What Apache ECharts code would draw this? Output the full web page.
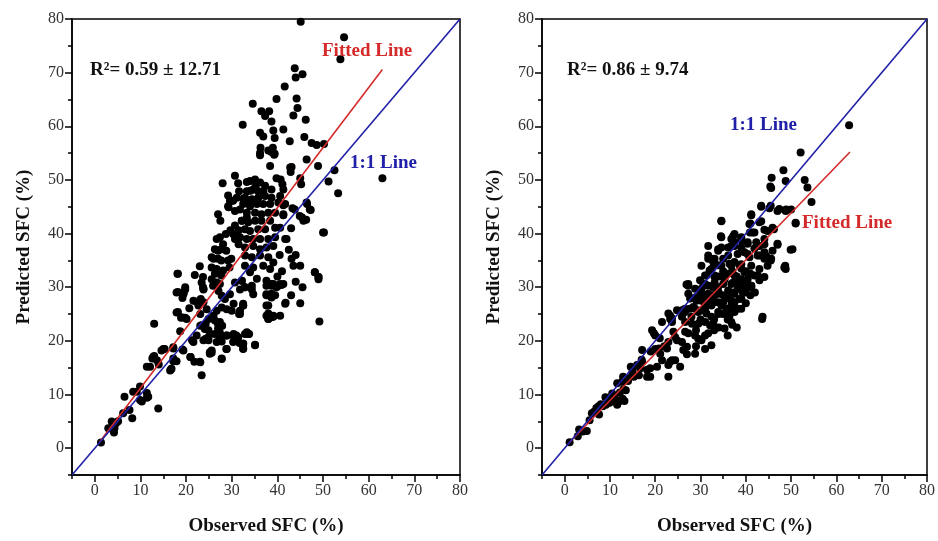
<!DOCTYPE html>
<html><head><meta charset="utf-8">
<script src="https://cdn.jsdelivr.net/npm/echarts@6/dist/echarts.min.js"></script>
<style>html,body{margin:0;padding:0;background:#fff}#c{width:938px;height:541px}</style>
</head><body><div id="c"></div>
<script>
// ---------- data ----------
const axisMin = -5, axisMax = 80;
const majorTicks = [0,10,20,30,40,50,60,70,80];
const minorTicks = [-5,5,15,25,35,45,55,65,75];
const xTitle = 'Observed SFC (%)';
const yTitle = 'Predicted SFC (%)';
const leftStat = 'R²= 0.59 ± 12.71';
const rightStat = 'R²= 0.86 ± 9.74';
const oneToOne = [[-5,-5],[80,80]];
const fitLeft = [[1,1.1],[63,70.6]];
const fitRight = [[1,1.0],[63,55.2]];

const leftPoints = [
[1.35,1.07],[2.95,3.7],[4.2,2.9],[5.1,5.0],[4.6,4.6],[3.7,4.95],[4.05,4.3],[4.3,3.7],[6.5,9.6],[7.6,7.1],[8.2,5.6],[8.4,10.5],[9.2,10.5],[9.9,11.5],[9.9,9.0],[10.3,8.7],[11.4,10.3],[11.4,9.4],[11.7,9.6],[6.2,6.5],[11.4,15.2],[12.1,15.2],[13,17.2],[12.6,16.7],[13,23.2],[13.9,7.4],[14.0,15.6],[14.6,18.2],[15.3,18.5],[16.7,14.7],[17.2,16.2],[17.9,16.2],[17.2,18.6],[15,18.5],[17.2,18.8],[19.4,18.2],[12.8,17],[13.6,16.4],[17.2,16.7],[20.9,17],[16.5,14.5],
[18.2,32.5],[19.2,28],[19.8,29.6],[19.5,29],[18.2,29.1],[18.2,25.4],[18.7,21.8],[18.9,24.3],[19.8,24.3],[19.2,18.4],[20.7,26.1],[21,17],[21.8,16.1],[21.3,20.1],[22.3,21],[22.3,27.3],[23.2,27.8],[23,16.1],[23.4,13.6],[23.4,22.9],[24.3,23.2],[24.9,22],[24.3,20.4],[24.9,20.1],[23.4,30.9],[23.8,29.7],[25.2,17.6],[25.6,17.8],[27,23.2],[27.4,23.5],[27.9,22.8],[27,22.3],[27.4,21.5],[27.8,19.9],[27.8,16.6],[28.8,18.5],[28.9,21],[30.3,21],[30.3,19.8],[31,21],[31.7,19.6],[31.6,25],[32.5,18.6],[32.5,19.5],[33.6,21.3],[35.1,19.2],[32.5,26.6],[37.6,26.6],[38,25.1],[38,24.1],[38.3,24.8],[39.1,24.5],[40.6,24.7],[37.6,28.5],[38.7,28.8],[39.5,28.5],[38.7,30.3],[40.2,30.3],[41.3,30.6],[41.8,27.1],[48.2,32.8],[49,31.9],[49.2,23.6],
[23.8,29.6],[26.7,30.9],[27.1,29.3],[27.8,28.4],[28.5,27.8],[29.6,28.7],[30.7,30.9],[31.8,29.6],[32.9,30],[17.9,29],[19.4,28.7],[21.6,27.5],[22.7,26.6],[23.8,27.2],[24.5,25.9],[17.9,25.3],[19,24.4],[20.1,24.1],[23.1,25],[24.9,24.1],[26,24.7],[26.7,25.6],[27.8,26.2],[28.9,25.9],[30,25.6],[31.8,25.6],[32.5,26.9],[30.4,26.9],[23.1,22.8],[24.1,22.2],[26.3,23.8],[27.1,23.2],[27.8,22.8],[24.9,20.7],[26.3,21.3],[27.4,20.4],[28.9,21],[30.4,21.3],[31.4,20.7],[32.9,21.3],[21.6,19.8],[23.8,20.1],[25.6,18.2],[26.7,19.8],[28.9,18.5],[32.5,18.5],[33.3,21.6],[23.1,16],[25.2,17.9],[27.8,16.7],[16.8,14.8],
[32.2,31.2],[32.9,30],[34.4,29.6],[34.7,28.7],[37.6,30.3],[38.7,30.6],[40.9,30.4],[39.8,30],[37.6,28.7],[38.4,28.4],[38.7,28.1],[38,26.6],[37.6,24.7],[38.7,24.4],[39.1,24.7],[38,24.1],[41.7,26.9],[49,31.5],[32.5,26.6],[31.8,25],[33.8,21.3],[32.5,19.4],[35.1,19.3],
[30.7,50.8],[28,49.4],[31.4,49.4],[33.3,49.6],[31.6,47.9],[29.2,47.1],[30,46.1],[31.1,46.7],[32.5,46.5],[33.6,46.1],[29.2,45.1],[30.7,44.2],[31.8,44.5],[27,43.6],[27.5,42.4],[32.2,42.4],[33.3,43],[30.7,41.5],[31.5,40.6],[29.7,40.6],[28.7,39.9],[30.3,39.9],[26.7,39],[27.4,39.3],[28.1,38],[30.7,39],[31.8,39.3],[31.5,38],[26.3,37.1],[27,36.8],[27.7,37.1],[28.8,36.8],[26,35.3],[25.6,35.6],[27,35.3],[27.7,35],[29.2,35],[29.9,35.3],[23,33.9],[25.6,33.7],[26.7,33.4],[28.1,33.1],[29.5,33.7],[18.1,32.5],[21.9,32.3],[23.7,31.9],[26.3,32.5],[27.7,32.2],[25.6,31.5],[27.4,30.6],[19.8,30],[23.7,30],[25.9,30.3],
[34,49.8],[35.1,50.1],[36.2,49.5],[37.3,48.9],[33.3,47.9],[34.7,48.2],[35.8,47.9],[36.9,47.9],[38.7,48.2],[32.9,46.7],[34.4,46.4],[35.8,46.7],[37.3,47],[38.7,46.7],[40.6,47],[32.5,45.5],[34,45.1],[35.5,45.5],[36.9,45.5],[38.4,45.5],[40.2,45.8],[41.7,45.5],[33.3,43.9],[35.1,43.9],[36.5,43.6],[38,43.9],[39.5,43.9],[41.3,43.6],[43.8,44.5],[32.2,42.4],[33.6,42.1],[35.1,42.4],[36.5,42.4],[38.4,42.4],[44.9,43.3],[45.7,42.4],[47.1,44.5],[46.4,45.8],[32.9,40.8],[34,40.5],[35.8,40.8],[37.3,40.8],[39.5,41.1],[40.6,41.1],[33.3,39],[34.7,39],[36.2,39],[38,39],[39.5,39.3],[41.7,39],[50,40.2],[32.9,37.4],[34.7,37.7],[36.2,37.1],[37.6,37.4],[39.1,37.7],[32.9,35.9],[34.4,35.6],[36.2,35.9],[38,35.6],[39.1,34.6],[32.9,34],[34.7,33.7],[36.9,34],[38.4,33.4],[43.1,35.3],[43.5,34],[34,32.8],[35.5,31.6],[37.6,31.2],[39.1,30.6],[40.6,30.6],[48.2,32.8],[49,31.9],[32.2,31.2],[34.4,30.3],
[45.1,79.5],[54.6,76.6],[53.8,72.5],[43.8,70.8],[45.5,69.7],[44,69.1],[41.6,67.4],[34.6,64.2],[39.8,65.1],[44.2,65.2],[44.4,63.4],[43.5,62],[36.5,62.8],[38.2,62.8],[37.3,61.9],[38.7,60.9],[32.4,60.3],[46.2,61.2],[36.2,58.8],[39.1,59.2],[39.4,57.8],[41.3,59.4],[42.7,57.2],[36.9,58.1],[45.9,58],[47.5,56.9],[48.6,56.5],[50.2,56.7],[36.2,55],[38,55.5],[38.7,55.2],[39.4,54.9],[46.4,53.8],[43.1,52.4],[38.4,52.6],[48.9,52.6],
[52.5,51.8],[51.2,49.7],[53.3,47.5],[63,50.3],[42.8,52.3],[42.9,51.5],[45,50.3],[45.2,49.2],[43.3,44.7],[46.5,45.5],[47.3,44.4],[45.4,43],[46.3,42.6],[50.2,40.2],[39.8,50.3],[40.7,50.1],[41.1,49.2],[41.3,48.2],[41.3,45.3],[41.3,43.4],[35,49.8],[35.2,48.7],[34.1,48],[29.6,46.1],[30.3,46.1],[29.3,44.9],[39,56],[36.3,56],[39.3,54.7],[36.2,54.6],
[42,39],[43,41],[44,36],[45,34],[42.5,37],[40.5,36],[41,33],[44,31],[45.5,30],[45,27],[43,28.5],[40,32]
];

const rightPoints = [
[1.1,1.1],[2.9,2.2],[4,3.1],[4.9,3.2],[3.2,3.5],[5.5,5.2],[6.5,6.8],[7.6,6.3],[8.4,7.8],[9.1,8.1],[9.8,8.4],[10.5,8.7],[11.6,8.1],[12,8.7],[12.4,9],[13.5,10.8],[12.7,12.4],[11.6,12.1],[12.9,13.3],[13.8,13],[14.9,13.6],[14.6,15.2],[15.3,13.3],[16.4,13.6],[16.7,14.9],[17.1,16.1],[18.2,14.6],[18.2,13.3],[18.9,13.3],[18.9,14.9],[17.1,18.3],[19.3,22],[19.7,21.4],[20,21],[20.8,18.6],[21.1,17.6],[21.5,16.4],[20.4,15.2],[21.5,23.5],[22.9,13.3],[22.9,15.5],[23.3,16.1],[23.7,16.4],[24.4,16.4],[25.5,15.2],[23.3,24.7],[23.3,24.1],[23.7,23.5],[24,21.7],[22.9,19.8],[22.6,18.6],[24.4,20.7],[24.8,20.1],[25.9,19.8],[27,18.9],[26.2,18.3],[26.6,21.7],[27.3,21.4],[28.8,21],[29.5,20.4],[30.2,20.1],[31,21],[31.7,21.4],[28.8,17.6],[25.9,25.7],[26.6,25.4],[27.7,26],[28.4,26.3],[29.5,25.4],[30.2,25.7],[31,26.3],[32.4,26.9],[26.6,23.5],[28.1,23.2],[29.5,23.2],[31,23.5],[32.1,22.9],[32.8,23.2],[32.4,19.2],[27.3,30.6],[27.3,30.3],[28.8,29.7],[30.2,29.7],[31.7,30.3],[33.1,30.9],[28.8,28.1],[30.2,27.5],[31.7,27.8],[33.1,28.5],[33.9,27.2],[34.6,26.6],[35.7,26],[36.8,26.6],[37.5,27.2],[38.6,27.8],[35.3,22.3],[36.8,23.5],[36.4,24.7],[37.5,25.4],[39.3,29.1],[39.7,30.3],[40.4,31.5],[41.2,30.3],[42.6,32.2],[33.9,30],[35.3,31.5],[36.8,30.6],[38.2,29.7],[48.8,33.4],[43.6,24.1],
[6,6.5],[7,7.5],[8,8.2],[9,9.5],[10,9.2],[7.5,7.8],[13,11],[14,12.5],[15,14.5],[16,15.5],[17,16.5],[19,18],[20,18.5],[21,20.5],[22,19],[10.5,10.2],[11,9.7],[12.2,10.4],[13.2,8.8],[12.8,9.2],
[32.4,35.3],[33.1,34.3],[32,33.1],[33.1,32.2],[31.3,32.2],[29.9,31.3],[31,30.6],[32.8,30],[26.9,30.5],[27.3,28.8],[27.7,27.9],[30.2,28.8],[29.1,27.5],[31.3,27.9],[32.8,28.5],[22.9,25.1],[24.8,25.7],[26.6,26],[28.8,26],[31,26],[32.4,26.6],[23.7,24.2],[25.9,24.5],[33.9,37.1],
[43.4,45.2],[45.5,45.2],[47,44.2],[48.8,44.2],[41.2,43.6],[34.6,42.4],[40.8,41.8],[43,42.1],[45.9,41.1],[51,42],[44.8,40.5],[37.5,39.9],[41.5,40.2],[39,39.3],[34.6,39.3],[44.1,39],[47,38.1],[50.3,37.1],[45.9,36.8],[31.7,37.7],[33.9,36.8],[36.8,37.7],[39,37.4],[40.4,38.1],[42.3,38.4],[31.7,35.9],[33.1,35.3],[36.1,35.9],[38.2,36.2],[40.4,36.2],[42.6,35.9],[44.1,35.3],[45.5,35],[30.2,34],[32.4,33.4],[34.6,34],[36.8,34],[39,34.3],[41.2,34],[43,33.4],[44.8,34],[48.5,33.7],[31,32.2],[33.1,31.9],[35.3,32.5],[37.5,32.2],[39.7,32.8],[41.9,32.2],[44.1,31.9],[30.6,30.3],[32.8,30.3],[35,30.6],[37.2,30.9],[39,30.6],[41.2,30.3],[43,31.3],[29.9,28.5],[31.7,28.8],[33.9,28.8],[36.1,29.4],[37.5,28.8],[39.7,29.4],[41.2,30],[31,26.6],[33.1,27.2],[35,27.2],[36.8,27.5],[39,27.9],[31.3,25.1],[33.9,25.4],[36.1,25.7],[38.2,26],[43.7,24.5],[32.4,24.5],
[62.8,60.2],[52.1,55.1],[48.3,51.8],[48.8,49.8],[53,50],[53.6,48.6],[54.5,45.9],[45.7,50.4],[45.4,48.8],[45.6,48.5],[43.4,45],[45.2,44.7],[47.4,44.6],[48.9,44.5],[50,44.5],[41.2,43.4],[43.4,42.3],[44.1,40.7],[46.2,40.8],[51,41.9],[49.9,37],[47,37.9],[48.7,34],[34.6,42.3],[34.5,39.5],[37.2,39.5],[39,39],[41,41.9],[40.9,40.2],[34.6,37.4],[36.1,37.4],[37.5,37.7],[43,37.7],[44.1,38],[41.9,40.2],[44.5,35.8],[45.6,35.3],[31.7,35.3],[32.8,34.7],[33.9,34.1],[35,35.3],[36.4,34.4],[37.5,34.7],[38.6,34.1],[36.8,39],[37.5,38.4],[39,38.7],[40.4,38.4],[39.7,36.5],[41.9,37.2],[43,35.9],[44.1,36.5],[40.8,35.6],
[34,32],[35,33],[36,32.5],[37,33],[38,32],[39,33.5],[40,33],[41,32.5],[34,29],[35,28.5],[36,28],[37,29],[38,31],[39,31.5],[40,29],[41,28.5],[42,29],[35,25],[36,24],[37,23],[38,22.5],[39,26],[40,27],[30,24],[29,22],[28,24.5],[33,24],[34,25],[33,22],[29,19],[27,17.5],[31,18.5],[34,22.5],[36,21]
];

// ---------- styling ----------
const SERIF = '"Liberation Serif", "Times New Roman", serif';
const RED = '#d42a2a', BLUE = '#2020a8';
const grids = [
  {left:72, top:19, width:388, height:458},
  {left:542, top:19, width:389, height:458}
];
const axisLineStyle = {color:'#000', width:1.5};

function majorAxis(g, isX) {
  return {
    type:'value', gridIndex:g, min:axisMin, max:axisMax,
    position: isX ? 'bottom' : 'left',
    splitLine:{show:false},
    axisLine:{show:true, onZero:false, lineStyle:axisLineStyle},
    axisTick:{show:true, inside:false, length:7, customValues:majorTicks, lineStyle:axisLineStyle},
    axisLabel:{customValues:majorTicks, color:'#333', fontFamily:SERIF, fontSize:16, margin:8},
    name: isX ? xTitle : yTitle,
    nameLocation:'middle', nameGap: isX ? 42 : 38,
    nameTextStyle:{fontFamily:SERIF, fontWeight:'bold', fontSize:19, color:'#111'}
  };
}
function minorAxis(g, isX) {
  return {
    type:'value', gridIndex:g, min:axisMin, max:axisMax,
    position: isX ? 'bottom' : 'left',
    splitLine:{show:false},
    axisLine:{show:false, onZero:false},
    axisTick:{show:true, inside:false, length:4, customValues:minorTicks, lineStyle:axisLineStyle},
    axisLabel:{show:false}
  };
}

function panelSeries(axisIdx, pts, fit) {
  return [
    {type:'scatter', xAxisIndex:axisIdx, yAxisIndex:axisIdx, data:pts, symbolSize:8,
     itemStyle:{color:'#000', opacity:1}, z:2, silent:true},
    {type:'line', xAxisIndex:axisIdx, yAxisIndex:axisIdx, data:fit, symbol:'none',
     lineStyle:{color:RED, width:1.6}, z:4, silent:true},
    {type:'line', xAxisIndex:axisIdx, yAxisIndex:axisIdx, data:oneToOne, symbol:'none',
     lineStyle:{color:BLUE, width:1.6}, z:5, silent:true}
  ];
}

function label(text, left, top, color) {
  return {type:'text', left:left, top:top, z:100,
    style:{text:text, fill:color, font:'bold 19px ' + SERIF}};
}

const chart = echarts.init(document.getElementById('c'), null, {renderer:'canvas'});
chart.setOption({
  animation:false,
  backgroundColor:'#fff',
  grid: grids.map(g => Object.assign({show:true, borderColor:'#000', borderWidth:1.5, backgroundColor:'transparent'}, g)),
  xAxis:[majorAxis(0,true), minorAxis(0,true), majorAxis(1,true), minorAxis(1,true)],
  yAxis:[majorAxis(0,false), minorAxis(0,false), majorAxis(1,false), minorAxis(1,false)],
  series:[].concat(panelSeries(0, leftPoints, fitLeft), panelSeries(2, rightPoints, fitRight)),
  graphic:[
    label(leftStat, 90, 61, '#111'),
    label('Fitted Line', 322, 42, RED),
    label('1:1 Line', 350, 154, BLUE),
    label(rightStat, 567, 61, '#111'),
    label('1:1 Line', 730, 116, BLUE),
    label('Fitted Line', 802, 214, RED)
  ]
});
</script>
</body></html>
